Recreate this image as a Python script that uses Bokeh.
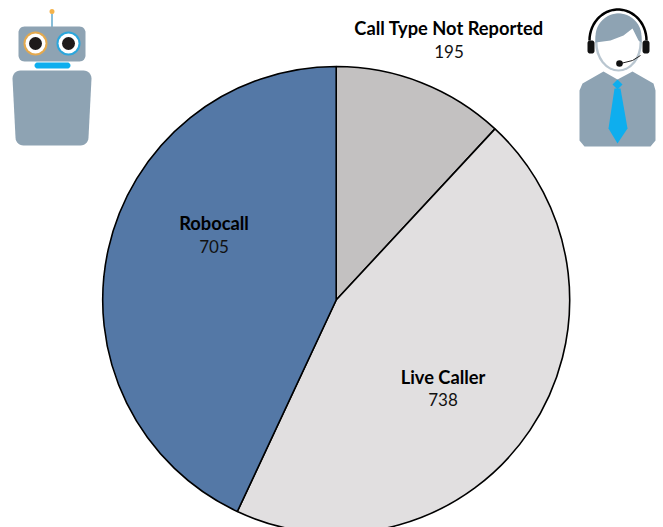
import numpy as np
from bokeh.plotting import figure
from bokeh.models import Range1d
from bokeh.core.properties import value
from bokeh.embed import file_html
from bokeh.resources import INLINE

categories = ["Call Type Not Reported", "Live Caller", "Robocall"]
counts = [195, 738, 705]
colors = ["#c3c1c1", "#e1dfe0", "#5478a6"]
label_x = [448.5, 442.5, 213.5]
label_y = [27, 376, 222]
value_y = [51, 399, 246]

W, H = 663, 527
FONT = value("Lato")
SLATE = "#8ea3b3"

p = figure(width=W, height=H, output_backend="svg", toolbar_location=None,
           x_range=Range1d(0, W), y_range=Range1d(0, H), min_border=0, outline_line_color=None,
           background_fill_color="white", border_fill_color="white")
p.axis.visible = False
p.grid.visible = False


def Y(y):
    return H - np.asarray(y, dtype=float)


def poly(pts, color):
    xs, ys = zip(*pts)
    p.patch(list(xs), list(Y(ys)), fill_color=color, line_color=None)


def rrect(x0, y0, x1, y1, r, color, taper=0.0):
    t = np.linspace(0, np.pi / 2, 8)
    xs, ys = [], []
    xs += list(x1 - r + r * np.sin(t)); ys += list(y0 + r - r * np.cos(t))
    xs += list(x1 - taper - r + r * np.cos(t)); ys += list(y1 - r + r * np.sin(t))
    xs += list(x0 + taper + r - r * np.sin(t)); ys += list(y1 - r + r * np.cos(t))
    xs += list(x0 + r - r * np.cos(t)); ys += list(y0 + r - r * np.sin(t))
    p.patch(xs, list(Y(ys)), fill_color=color, line_color=None)


def circ(x, y, r, color, **kw):
    p.ellipse([x], [H - y], width=2 * r, height=2 * r, fill_color=color, line_color=None, **kw)


# Pie
fr = np.cumsum([0] + counts) / sum(counts)
angles = np.pi / 2 - 2 * np.pi * fr
p.wedge(x=335.7, y=H - 299.5, radius=233.5, start_angle=angles[:-1], end_angle=angles[1:], direction="clock",
        fill_color=colors, line_color="black", line_width=1.6)

# Labels
p.text(label_x, list(Y(label_y)), text=categories, text_font=FONT, text_font_style="bold", text_font_size="18.3px",
       text_align="center", text_baseline="middle", text_color="black")
p.text(label_x, list(Y(value_y)), text=[str(c) for c in counts], text_font=FONT, text_font_size="17px",
       text_align="center", text_baseline="middle", text_color="#111111")

# Robot icon
p.line([51.5, 51.5], list(Y([13, 27])), line_color="#5fa9cc", line_width=1.5)
circ(51.5, 11, 2.5, "#f4b24a")
rrect(18, 26, 85, 61, 6, SLATE)
circ(35, 43, 12, "#e4a94e"); circ(35, 43, 10, "white"); circ(35, 43, 6.5, "#1e1a1b")
circ(68, 43, 12, "#2ba6dc"); circ(68, 43, 10, "white"); circ(68, 43, 6.5, "#1e1a1b")
rrect(34, 62, 70, 68, 3, "#0eaeee")
rrect(12, 70, 91, 145, 8, SLATE, taper=3)

# Agent icon
poly([(603, 71), (617, 79), (632, 71), (653, 83), (655, 90), (655, 140), (650, 146), (584, 146), (579, 140), (579, 90), (582, 83)], SLATE)
poly([(617, 79), (622, 84), (617, 89), (612, 84)], "#0eaeee")
poly([(614, 88), (620, 88), (627, 128), (617, 143), (608, 128)], "#0eaeee")
# face
p.ellipse([618], [H - 42], width=47, height=58, fill_color="#b9c6d0", line_color=None)
p.ellipse([618], [H - 42], width=42, height=54, fill_color="white", line_color=None)
# hair
t = np.linspace(np.pi, 0, 24)
hx = list(618 + 23 * np.cos(t)) + [641, 638, 632, 623, 610, 595]
hy = list(36 - 23 * np.sin(t)) + [42, 40, 28, 35, 40, 42]
p.patch(hx, list(Y(hy)), fill_color=SLATE, line_color=None)
# headset
t = np.linspace(np.pi, 0, 30)
p.line(list(617.5 + 28.5 * np.cos(t)), list(Y(40 - 31 * np.sin(t))), line_color="black", line_width=2.5)
rrect(587, 40, 594, 53, 2.5, "#111111")
rrect(642, 40, 649, 53, 2.5, "#111111")
p.line([620, 632, 640], list(Y([63, 60, 55])), line_color="#222222", line_width=1)
circ(619, 63, 3.3, "#111111")

html = file_html(p, INLINE)
open("out.html", "w").write(html)
